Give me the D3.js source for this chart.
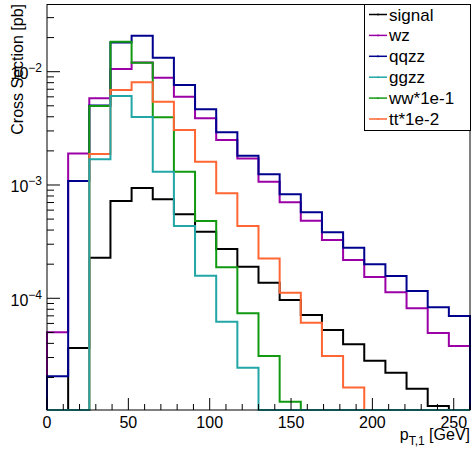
<!DOCTYPE html>
<html>
<head>
<meta charset="utf-8">
<script src="https://cdn.jsdelivr.net/npm/d3@7"></script>
<style>
  html, body { margin: 0; padding: 0; background: #fff; }
  svg { display: block; font-family: "Liberation Sans", Arial, Helvetica, sans-serif; }
</style>
</head>
<body>
<svg id="chart" width="473" height="457"></svg>
<script>
// Leading-jet transverse momentum, 20 bins of 13 GeV from 0 to 260 GeV
const binEdges = d3.range(0, 261, 13);

// Cross section per bin [pb]; 0 means an empty bin
const signal = [0, 3.64e-5, 2.28e-4, 7.22e-4, 9.41e-4, 7.48e-4, 5.51e-4, 3.87e-4, 2.72e-4, 1.90e-4,
                1.37e-4, 9.66e-5, 7.12e-5, 5.25e-5, 3.93e-5, 2.81e-5, 2.20e-5, 1.59e-5, 1.12e-5, 0];
const wz     = [5.01e-5, 1.90e-3, 5.82e-3, 1.056e-2, 1.206e-2, 8.85e-3, 6.02e-3, 3.88e-3, 2.49e-3, 1.71e-3,
                1.07e-3, 7.04e-4, 4.84e-4, 3.27e-4, 2.18e-4, 1.54e-4, 1.13e-4, 8.16e-5, 4.94e-5, 3.79e-5];
const qqzz   = [2.05e-5, 1.085e-3, 5.03e-3, 1.81e-2, 2.08e-2, 1.329e-2, 7.63e-3, 4.66e-3, 2.92e-3, 1.81e-3,
                1.243e-3, 8.28e-4, 5.74e-4, 3.82e-4, 2.80e-4, 1.996e-4, 1.573e-4, 1.16e-4, 8.33e-5, 6.98e-5];
const ggzz   = [0, 0, 1.685e-3, 6.10e-3, 3.98e-3, 1.31e-3, 4.35e-4, 1.58e-4, 6.22e-5, 2.44e-5,
                0, 0, 0, 0, 0, 0, 0, 0, 0, 0];
const ww     = [0, 0, 4.98e-3, 1.84e-2, 1.20e-2, 3.96e-3, 1.31e-3, 4.81e-4, 1.877e-4, 7.37e-5,
                3.09e-5, 1.22e-5, 0, 0, 0, 0, 0, 0, 0, 0];
const tt     = [0, 0, 1.877e-3, 6.90e-3, 8.06e-3, 5.43e-3, 3.06e-3, 1.605e-3, 8.45e-4, 4.35e-4,
                2.24e-4, 1.12e-4, 6.09e-5, 3.09e-5, 1.63e-5, 0, 0, 0, 0, 0];

const seriesNames  = ["signal", "wz", "qqzz", "ggzz", "ww*1e-1", "tt*1e-2"];
const seriesValues = [signal, wz, qqzz, ggzz, ww, tt];
const seriesColors = ["#000000", "#9b00a6", "#00008f", "#22a6a6", "#119911", "#ff6633"];
// order in which the outlines are stroked (later ones on top)
const drawOrder = [0, 1, 2, 4, 5, 3];

const xTicks = [0, 50, 100, 150, 200, 250];
const yDecades = [-4, -3, -2];

const svg = d3.select("#chart");
const padL = 47, padR = 470, padT = 4, padB = 410;

const x = d3.scaleLinear().domain([0, 260]).range([padL, padR]);
const y = d3.scaleLog().domain([Math.pow(10, -4.986), Math.pow(10, -1.4025)]).range([padB, padT]).clamp(true);
const yMin = y.domain()[0];

// histogram outlines
const line = d3.line().x(d => d[0]).y(d => d[1]);
drawOrder.forEach(si => {
  const vals = seriesValues[si];
  const pts = [[x(binEdges[0]), y(yMin)]];
  vals.forEach((v, i) => {
    const yy = y(v > 0 ? v : yMin);
    pts.push([x(binEdges[i]), yy]);
    pts.push([x(binEdges[i + 1]), yy]);
  });
  pts.push([x(binEdges[binEdges.length - 1]), y(yMin)]);
  svg.append("path")
    .attr("d", line(pts))
    .attr("fill", "none")
    .attr("stroke", seriesColors[si])
    .attr("stroke-width", 2)
    .attr("stroke-linejoin", "miter");
});

// frame
svg.append("rect")
  .attr("x", padL).attr("y", padT + 0.5)
  .attr("width", padR - padL).attr("height", padB - padT - 0.5)
  .attr("fill", "none").attr("stroke", "#000").attr("stroke-width", 1);

// x axis ticks (inward) and labels
const xg = svg.append("g");
d3.range(0, 261, 10).forEach(v => {
  const major = v % 50 === 0;
  xg.append("line")
    .attr("x1", x(v)).attr("x2", x(v))
    .attr("y1", padB).attr("y2", padB - (major ? 12 : 6))
    .attr("stroke", "#000").attr("stroke-width", 1);
});
xTicks.forEach(v => {
  xg.append("text")
    .attr("x", x(v)).attr("y", 428)
    .attr("text-anchor", "middle")
    .attr("font-size", 16)
    .text(v);
});

// y axis: decade ticks, minor ticks, 10^n labels
const yg = svg.append("g");
for (let e = -5; e <= -2; e++) {
  for (let k = 1; k <= 9; k++) {
    const v = k * Math.pow(10, e);
    if (v < y.domain()[0] || v > y.domain()[1]) continue;
    yg.append("line")
      .attr("x1", padL).attr("x2", padL + (k === 1 ? 13 : 7))
      .attr("y1", y(v)).attr("y2", y(v))
      .attr("stroke", "#000").attr("stroke-width", 1);
  }
}
yDecades.forEach(e => {
  const t = yg.append("text")
    .attr("x", 42).attr("y", y(Math.pow(10, e)) + 7.5)
    .attr("text-anchor", "end")
    .attr("font-size", 16);
  t.append("tspan").text("10");
  t.append("tspan").attr("font-size", 12).attr("dy", -7).text("\u2212" + (-e));
});

// axis titles
svg.append("text")
  .attr("transform", "translate(23," + padT + ") rotate(-90)")
  .attr("text-anchor", "end")
  .attr("font-size", 16)
  .text("Cross Section [pb]");

const xt = svg.append("text")
  .attr("x", padR).attr("y", 440)
  .attr("text-anchor", "end")
  .attr("font-size", 16);
xt.append("tspan").text("p");
xt.append("tspan").attr("font-size", 12).attr("dy", 5).text("T,1");
xt.append("tspan").attr("dy", -5).text(" [GeV]");

// legend
const lg = svg.append("g");
lg.append("rect")
  .attr("x", 364.5).attr("y", padT + 0.5)
  .attr("width", 106).attr("height", 126)
  .attr("fill", "#fff").attr("stroke", "#000").attr("stroke-width", 1);
seriesNames.forEach((name, i) => {
  const cy = 14.5 + i * 20.9;
  lg.append("line")
    .attr("x1", 369).attr("x2", 387)
    .attr("y1", cy).attr("y2", cy)
    .attr("stroke", seriesColors[i]).attr("stroke-width", 1.5);
  lg.append("line")
    .attr("x1", 378).attr("x2", 378)
    .attr("y1", cy - 1).attr("y2", cy + 1)
    .attr("stroke", seriesColors[i]).attr("stroke-width", 1);
  lg.append("text")
    .attr("x", 389).attr("y", cy + 6)
    .attr("font-size", 17)
    .text(name);
});
</script>
</body>
</html>
